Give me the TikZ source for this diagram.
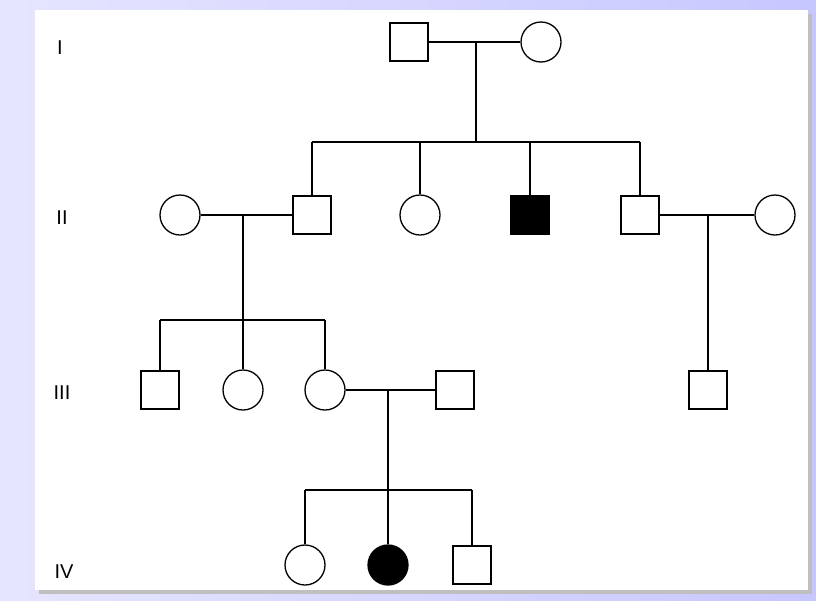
\documentclass[tikz,border=0pt]{standalone}
\usepackage{fontspec}
\setmainfont{Liberation Sans}
\begin{document}
\begin{tikzpicture}[x=1pt,y=-1pt,line width=1.3pt,
  m/.style={draw,minimum size=38pt,inner sep=0pt},
  f/.style={draw,circle,minimum size=40pt,inner sep=0pt},
  lab/.style={font=\fontsize{20}{20}\selectfont}]
\useasboundingbox[left color=blue!10!white,right color=blue!22!white,draw=none] (0,0) rectangle (816,600);
\fill[black!25] (39,14) rectangle (812,594);
\fill[white] (35,10) rectangle (808,590);
\node[lab] (l1) at (60,48) {I};
\node[lab] (l2) at (62,218) {II};
\node[lab] (l3) at (62,393) {III};
\node[lab] (l4) at (64,572) {IV};
% Gen I
\node[m] (a) at (409,42) {};
\node[f] (b) at (541,42) {};
% Gen II
\node[f] (c) at (180,215) {};
\node[m] (d) at (312,215) {};
\node[f] (e) at (420,215) {};
\node[m,fill=black] (g) at (530,215) {};
\node[m] (h) at (640,215) {};
\node[f] (i) at (775,215) {};
% Gen III
\node[m] (j) at (160,390) {};
\node[f] (k) at (243,390) {};
\node[f] (n) at (325,390) {};
\node[m] (o) at (455,390) {};
\node[m] (p) at (708,390) {};
% Gen IV
\node[f] (q) at (305,565) {};
\node[f,fill=black] (r) at (388,565) {};
\node[m] (s) at (472,565) {};
% connections
\coordinate (c1) at (476,42); \coordinate (s1) at (476,142);
\draw (a) -- (b); \draw (c1) -- (s1);
\draw (d.north |- s1) -- (h.north |- s1);
\foreach \x in {d,e,g,h} \draw (\x.north |- s1) -- (\x.north);
\coordinate (c2) at (243,215); \coordinate (s2) at (243,320);
\draw (c) -- (d); \draw (c2) -- (s2);
\draw (j.north |- s2) -- (n.north |- s2);
\foreach \x in {j,k,n} \draw (\x.north |- s2) -- (\x.north);
\coordinate (c3) at (708,215);
\draw (h) -- (i); \draw (c3) -- (p.north);
\coordinate (c4) at (388,390); \coordinate (s4) at (388,490);
\draw (n) -- (o); \draw (c4) -- (s4);
\draw (q.north |- s4) -- (s.north |- s4);
\foreach \x in {q,r,s} \draw (\x.north |- s4) -- (\x.north);
\end{tikzpicture}
\end{document}
